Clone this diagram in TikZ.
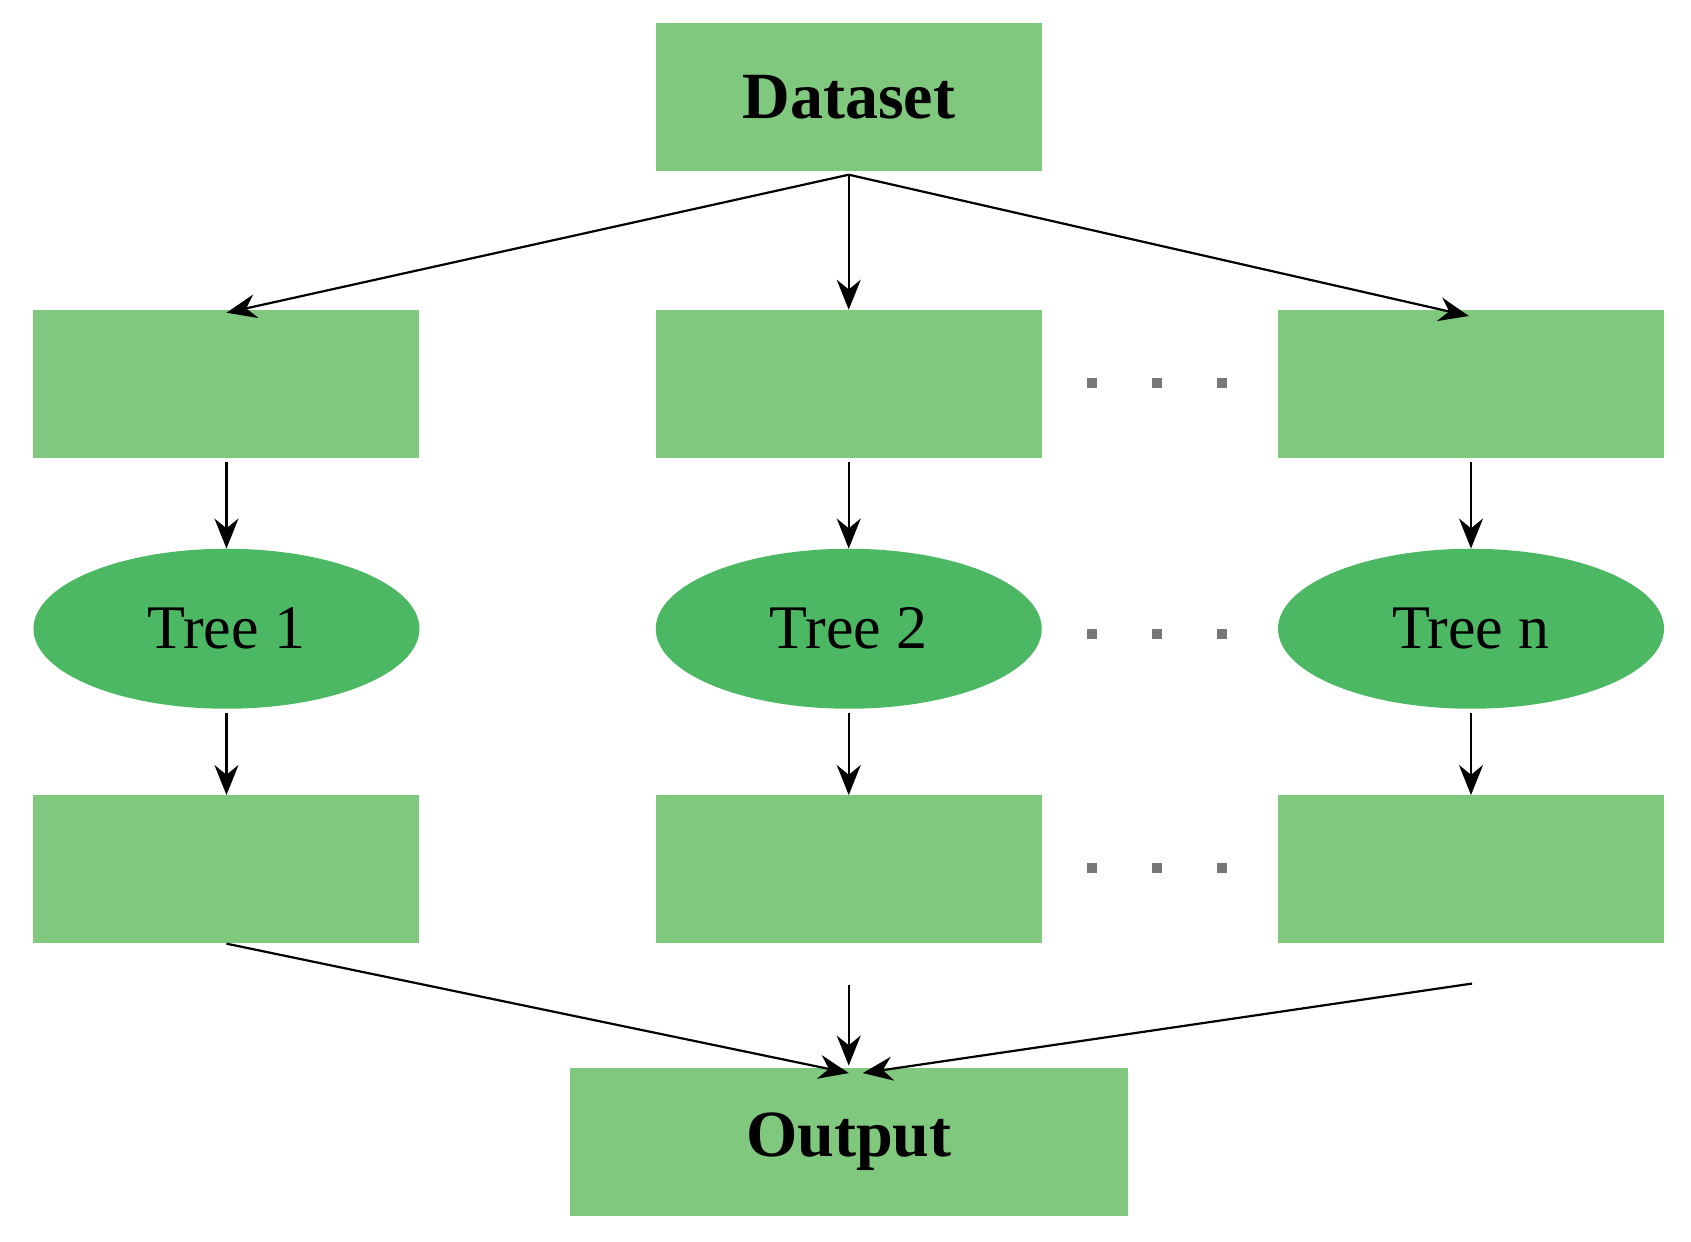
\documentclass[tikz,border=0pt]{standalone}
\usepackage{fontspec}
\setmainfont{Liberation Serif}
\usetikzlibrary{shapes.geometric,arrows.meta}
\definecolor{boxg}{HTML}{7FC87E}
\definecolor{ellg}{HTML}{4DB863}
\definecolor{dotg}{HTML}{777777}
\begin{document}
\begin{tikzpicture}[x=1.0784pt,y=-1.0784pt,
 box/.style={fill=boxg,draw=none,minimum width=386pt,minimum height=148pt,inner sep=0pt},
 ell/.style={ellipse,fill=ellg,draw=none,minimum width=386pt,minimum height=160pt,inner sep=0pt,font=\fontsize{62}{70}\selectfont},
 arr/.style={line width=2.2pt,-{Stealth[length=30pt,width=24pt]}},
 dot/.style={fill=dotg,minimum size=10pt,inner sep=0pt}]
\useasboundingbox (0,0) rectangle (1568,1151);
\node[box,font=\fontsize{66}{72}\selectfont\bfseries] (ds) at (787,90) {Dataset};
\foreach \i/\x in {1/210,2/787,3/1364}{
 \node[box] (a\i) at (\x,356) {};
 \node[box] (c\i) at (\x,806) {};
}
\node[ell] (t1) at (210,583) {Tree 1};
\node[ell] (t2) at (787,583) {Tree 2};
\node[ell] (t3) at (1364,583) {Tree n};
\node[box,minimum width=558pt,font=\fontsize{66}{72}\selectfont\bfseries] (out) at (787,1059) {Output};
\foreach \y/\n in {355/a,588/b,805/c}{
 \foreach \x/\k in {1013/1,1073/2,1133/3}{ \node[dot] (d\n\k) at (\x,\y) {}; }
}
\coordinate (top) at (787,162);
\coordinate (e1) at (210,290);
\coordinate (e3) at (1362,293);
\draw[arr] (top) -- (e1);
\draw[arr] (top) -- (a2.north);
\draw[arr] (top) -- (e3);
\foreach \i in {1,2,3}{
 \draw[arr] ([yshift=-4pt]a\i.south) -- (t\i.north);
 \draw[arr] ([yshift=-4pt]t\i.south) -- (c\i.north);
}
\coordinate (s1) at (210,875);
\coordinate (s2) at (787,913);
\coordinate (s3) at (1365,912);
\coordinate (m1) at (787,995);
\coordinate (m2) at (787,988);
\coordinate (m3) at (800,995);
\draw[arr] (s1) -- (m1);
\draw[arr] (s2) -- (m2);
\draw[arr] (s3) -- (m3);
\end{tikzpicture}
\end{document}
